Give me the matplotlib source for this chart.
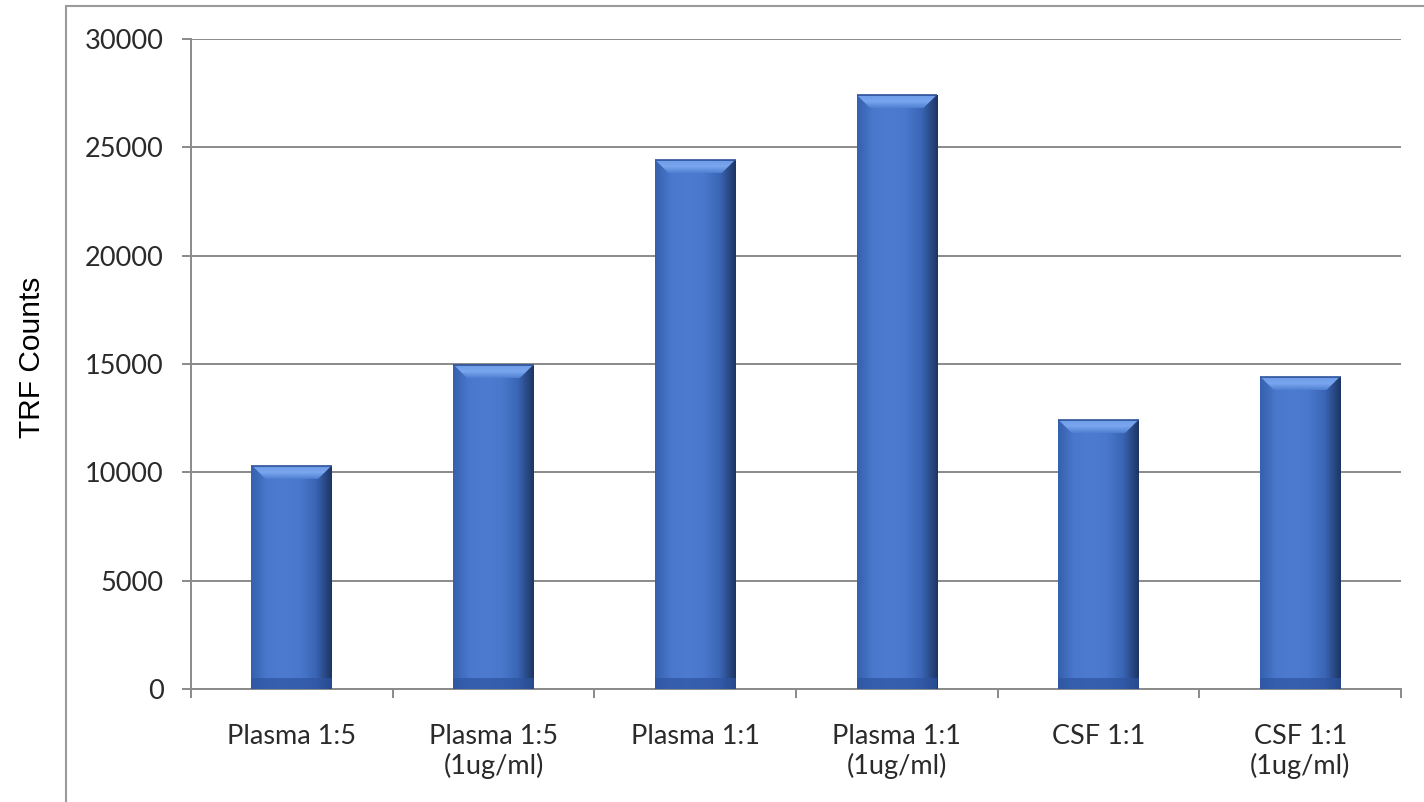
import matplotlib
matplotlib.use("Agg")
import matplotlib.pyplot as plt
import numpy as np
from matplotlib.patches import Rectangle, Polygon
from matplotlib.colors import LinearSegmentedColormap

categories = ["Plasma 1:5", "Plasma 1:5\n(1ug/ml)", "Plasma 1:1", "Plasma 1:1\n(1ug/ml)",
              "CSF 1:1", "CSF 1:1\n(1ug/ml)"]
values = [10300, 14950, 24400, 27400, 12400, 14400]
yticks = [0, 5000, 10000, 15000, 20000, 25000, 30000]
ylabel = "TRF Counts"

W, H = 1424, 802
fig = plt.figure(figsize=(W / 100, H / 100), dpi=100)
ax = fig.add_axes([191 / W, 1 - 689 / H, (1401 - 191) / W, (689 - 39) / H])

grid_c = "#8a8a8a"
x = np.arange(len(categories))
bars = ax.bar(x, values, width=0.40, color="#4a78cc", zorder=3, edgecolor="none")

ax.set_xlim(-0.5, len(categories) - 0.5)
ax.set_ylim(0, 30000)
ax.set_yticks(yticks)
ax.set_yticklabels([str(v) for v in yticks])
ax.set_xticks(x)
ax.set_xticklabels(categories)
ax.set_xticks(np.arange(-0.5, len(categories)), minor=True)
ax.yaxis.grid(True, color=grid_c, lw=1.4, zorder=0)
ax.set_axisbelow(True)

for s in ["top", "right"]:
    ax.spines[s].set_visible(False)
for s in ["left", "bottom"]:
    ax.spines[s].set_color(grid_c)
    ax.spines[s].set_linewidth(1.4)

tick_font = dict(family=["Lato", "DejaVu Sans"], size=19.5)
ax.tick_params(axis="x", which="major", length=0, pad=25, labelcolor="#2a2a2a")
ax.tick_params(axis="x", which="minor", length=6.5, width=1.4, color=grid_c, direction="out")
ax.tick_params(axis="y", length=6.5, width=1.4, color=grid_c, pad=13, labelcolor="#2a2a2a")
for lab in ax.get_xticklabels() + ax.get_yticklabels():
    lab.set_fontfamily(tick_font["family"])
    lab.set_fontsize(tick_font["size"])

ax.set_ylabel(ylabel, family=["Liberation Sans", "DejaVu Sans"], fontsize=21.5, color="#000000")
ax.yaxis.set_label_coords((46 - 191) / (1401 - 191), (689 - 357) / (689 - 39))

# bevel shading on each bar
grad = LinearSegmentedColormap.from_list(
    "bev", ["#3560ad", "#4a78cc", "#4d7bd0", "#4a78cc", "#3b66b6", "#1c3462"])
g = np.linspace(0, 1, 256).reshape(1, -1)
topgrad = LinearSegmentedColormap.from_list("topb", ["#4f7fd2", "#7aa6ee", "#6e9ce8"])
tg = np.linspace(0, 1, 64).reshape(-1, 1)
fig.canvas.draw()
to_data = ax.transData.inverted()
for b in bars:
    x0, w, h = b.get_x(), b.get_width(), b.get_height()
    im = ax.imshow(g, cmap=grad, aspect="auto", extent=(x0, x0 + w, 0, h), zorder=3.5,
                   interpolation="bilinear")
    im.set_clip_path(b)
    # pixel sizes converted to data units
    p0 = ax.transData.transform((x0, h))
    dx = to_data.transform((p0[0] + 14, p0[1]))[0] - x0
    dy_top = h - to_data.transform((p0[0], p0[1] - 13))[1]
    dy_bot = to_data.transform((p0[0], ax.transData.transform((x0, 0))[1] + 11))[1]
    top = Polygon([(x0 + 0.004, h), (x0 + w - 0.004, h), (x0 + w - dx, h - dy_top),
                   (x0 + dx, h - dy_top)], closed=True, facecolor="none", edgecolor="none")
    ax.add_patch(top)
    tim = ax.imshow(tg, cmap=topgrad, aspect="auto", extent=(x0, x0 + w, h - dy_top, h),
                    origin="lower", zorder=4, interpolation="bilinear")
    tim.set_clip_path(top)
    ax.plot([x0, x0 + w], [h, h], color="#2d5299", lw=1.2, zorder=4.5, solid_capstyle="butt")
    bot = Rectangle((x0, 0), w, dy_bot, facecolor="#2d54a0", edgecolor="none", zorder=4, alpha=0.7)
    ax.add_patch(bot)

ax.set_xlim(-0.5, len(categories) - 0.5)
ax.set_ylim(0, 30000)

# outer chart-area frame
fig.add_artist(Rectangle((66 / W, -0.1), 1.2, (1 - 6 / H) + 0.1, transform=fig.transFigure,
                         fill=False, edgecolor="#9a9a9a", lw=1.5))

fig.savefig("out.png", dpi=100)
